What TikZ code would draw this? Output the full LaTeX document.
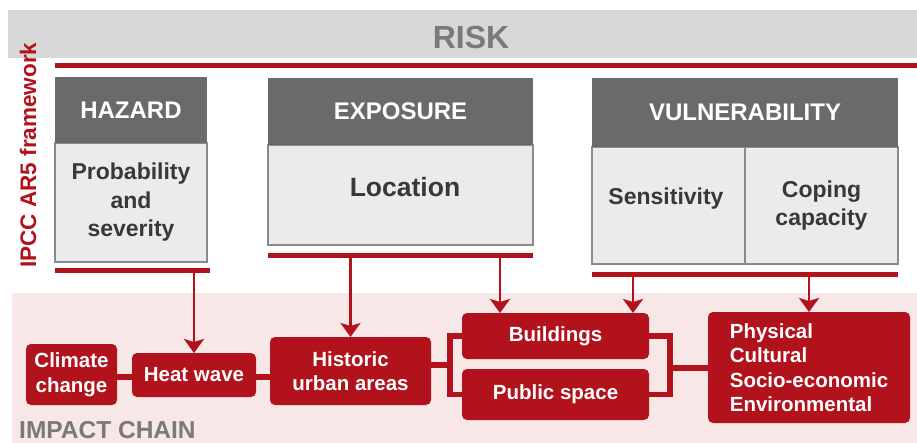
\documentclass[tikz,border=0pt]{standalone}
\usepackage{fontspec}
\setmainfont{Liberation Sans}
\usetikzlibrary{arrows.meta}
\definecolor{dred}{HTML}{B2121B}
\definecolor{pinkbg}{HTML}{F7E7E7}
\definecolor{riskgray}{HTML}{D8D8D8}
\definecolor{hdgray}{HTML}{6A6A6A}
\definecolor{bodygray}{HTML}{EBEBEB}
\definecolor{bordgray}{HTML}{8A8A8A}
\definecolor{txtdark}{HTML}{383838}
\definecolor{txtmid}{HTML}{7A7A7A}
\tikzset{
  hdr/.style={fill=hdgray, text=white, font=\fontsize{24}{28}\selectfont\bfseries, inner sep=0pt, outer sep=0pt},
  bodybox/.style={fill=bodygray, draw=bordgray, line width=1.3pt, text=txtdark, align=center, font=\fontsize{23}{28.5}\selectfont\bfseries, inner sep=0pt, outer sep=0pt},
  redbar/.style={fill=dred, inner sep=0pt, outer sep=0pt, minimum height=5pt},
  chain/.style={fill=dred, rounded corners=5pt, text=white, align=center, font=\fontsize{20.5}{24.5}\selectfont\bfseries, inner sep=0pt, outer sep=0pt},
  arr/.style={draw=dred, line width=2.8pt, -{Stealth[width=20pt,length=14pt,inset=3pt]}},
  link/.style={draw=dred, line width=5.5pt},
}
\begin{document}
\begin{tikzpicture}[x=1pt,y=-1pt]
\useasboundingbox (0,0) rectangle (917,443);
\fill[white] (0,0) rectangle (917,443);
% RISK band
\fill[riskgray] (8,10) rectangle (917,58);
\node[text=txtmid, font=\fontsize{32}{35}\selectfont\bfseries] (risk) at (471,37) {RISK};
% pink band
\fill[pinkbg] (12,293) rectangle (917,443);
% vertical label
\node[rotate=90, text=dred, font=\fontsize{22.5}{26}\selectfont\bfseries] (ipcc) at (28,155) {IPCC AR5 framework};
% top bar
\node[redbar, minimum width=862pt] (topbar) at (486,66) {};
% HAZARD
\node[bodybox, minimum width=152pt, minimum height=119pt] (hazb) at (131,202.5) {Probability\\and\\severity};
\node[hdr, minimum width=152pt, minimum height=66pt] (haz) at (131,110) {HAZARD};
% EXPOSURE
\node[bodybox, minimum width=265pt, minimum height=100pt] (expb) at (400.5,195) {};
\node[text=txtdark, font=\fontsize{26.5}{30}\selectfont\bfseries, inner sep=0pt] (loc) at (405,187) {Location};
\node[hdr, minimum width=265pt, minimum height=67pt] (exp) at (400.5,111.5) {EXPOSURE};
% VULNERABILITY
\node[bodybox, minimum width=153pt, minimum height=117pt] (sens) at (668.5,205.5) {};
\node[text=txtdark, font=\fontsize{23}{28}\selectfont\bfseries, inner sep=0pt] (senst) at (666,199) {Sensitivity};
\node[bodybox, minimum width=153pt, minimum height=117pt] (cope) at (821.5,205.5) {Coping\\capacity};
\node[hdr, minimum width=306pt, minimum height=69pt] (vul) at (745,112.5) {VULNERABILITY};
% bars
\node[redbar, minimum width=155pt] (hbar) at (132.5,271) {};
\node[redbar, minimum width=265pt] (ebar) at (400.5,256) {};
\node[redbar, minimum width=306pt] (vbar) at (745,275) {};
% chain nodes
\node[chain, minimum width=91pt, minimum height=61pt] (clim) at (71.5,374.5) {Climate\\change};
\node[chain, minimum width=124pt, minimum height=44pt] (heat) at (194,375) {Heat wave};
\node[chain, minimum width=161pt, minimum height=68pt] (hist) at (350.5,371) {Historic\\urban areas};
\node[chain, minimum width=187pt, minimum height=46pt] (bld) at (555.5,336) {Buildings};
\node[chain, minimum width=187pt, minimum height=51pt] (pub) at (555.5,394.5) {Public space};
\node[chain, minimum width=202pt, minimum height=111pt, align=left] (imp) at (809,367.5) {Physical\\Cultural\\Socio-economic\\Environmental};
\node[anchor=west, text=txtmid, font=\fontsize{24.5}{28}\selectfont\bfseries, inner sep=0pt] (ichain) at (19,430) {IMPACT CHAIN};
% connectors
\coordinate (cy) at (0,377);
\draw[link] (clim.east |- cy) -- (heat.west |- cy);
\draw[link] (heat.east |- cy) -- (hist.west |- cy);
\coordinate (lb) at (450,365);
\coordinate (rb) at (670,368);
\draw[link] (hist.east |- lb) -- (lb);
\draw[link] (bld.west) -| (lb) |- (pub.west);
\draw[link] (bld.east) -| (rb) |- (pub.east);
\draw[link] (rb) -- (imp.west |- rb);
% arrows
\draw[arr] (hbar.south -| heat.north) -- (heat.north);
\draw[arr] (ebar.south -| hist.north) -- (hist.north);
\coordinate (a3) at (500,0);
\coordinate (a4) at (633,0);
\draw[arr] (ebar.south -| a3) -- (bld.north -| a3);
\draw[arr] (vbar.south -| a4) -- (bld.north -| a4);
\draw[arr] (vbar.south -| imp.north) -- (imp.north);
\end{tikzpicture}
\end{document}
